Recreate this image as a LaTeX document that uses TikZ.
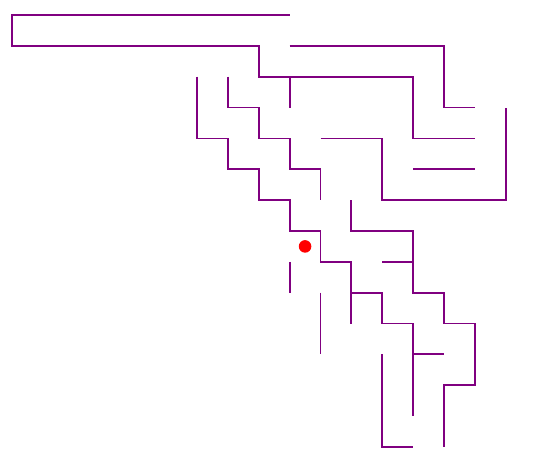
\documentclass[tikz,border=0pt]{standalone}
\usetikzlibrary{positioning}
\definecolor{mazepurple}{RGB}{128,0,128}
\tikzset{wall/.style={mazepurple, line width=0.85pt}}

\begin{document}
\begin{tikzpicture}[x=0.5cm, y=-0.5cm]
  \useasboundingbox (-0.389,-0.487) rectangle (17.18,14.87);
  % 外框与上部通道
  \draw[wall] (9,0) -- (0,0) -- (0,1) -- (8,1) -- (8,2) -- (13,2) -- (13,4) -- (15,4);
  \draw[wall] (9,1) -- (14,1) -- (14,3) -- (15,3);
  \draw[wall] (9,2) -- (9,3);
  % 左侧阶梯
  \draw[wall] (6,2) -- (6,4) -- (7,4) -- (7,5) -- (8,5) -- (8,6) -- (9,6) -- (9,7)
              -- (10,7) -- (10,8) -- (11,8) -- (11,10);
  \draw[wall] (11,9) -- (12,9) -- (12,10) -- (13,10) -- (13,13);
  \draw[wall] (13,11) -- (14,11);
  \draw[wall] (7,2) -- (7,3) -- (8,3) -- (8,4) -- (9,4) -- (9,5) -- (10,5) -- (10,6);
  % 右侧
  \draw[wall] (10,4) -- (12,4) -- (12,6) -- (16,6) -- (16,3);
  \draw[wall] (13,5) -- (15,5);
  \draw[wall] (11,6) -- (11,7) -- (13,7) -- (13,9) -- (14,9) -- (14,10) -- (15,10)
              -- (15,12) -- (14,12) -- (14,14);
  \draw[wall] (12,8) -- (13,8);
  % 下部
  \draw[wall] (9,8) -- (9,9);
  \draw[wall] (10,9) -- (10,11);
  \draw[wall] (12,11) -- (12,14) -- (13,14);
  % 当前位置
  \fill[red] (9.5,7.5) circle (2.9pt);
\end{tikzpicture}
\end{document}
